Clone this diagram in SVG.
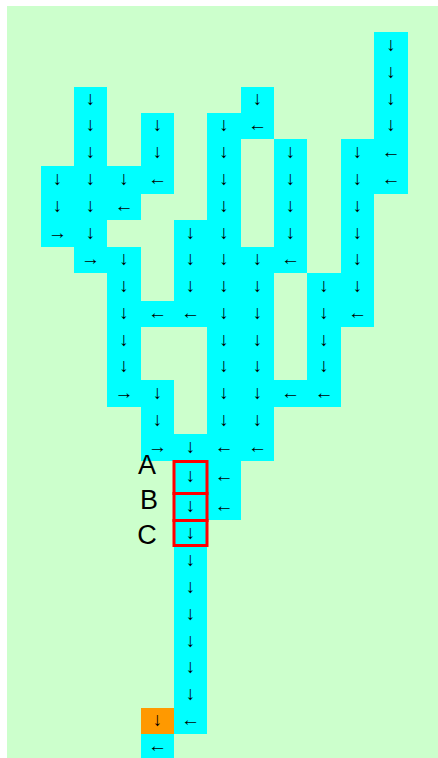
<svg xmlns="http://www.w3.org/2000/svg" width="438" height="758" viewBox="0 0 438 758">
<style>
.c{fill:#00FFFF}
.o{fill:#FF9900}
.t{font-family:"Liberation Sans","DejaVu Sans",sans-serif;font-size:19px;fill:#000;text-anchor:middle;dominant-baseline:central}
.lbl{font-family:"Liberation Sans",Arial,sans-serif;font-size:27px;fill:#000;text-anchor:middle}
.box{fill:none;stroke:#FF0000;stroke-width:3}
</style>
<rect x="7" y="6" width="431" height="752" fill="#CCFFCC"/>
<g id="cells">
<g id="r0c11"><rect class="c" x="374" y="32" width="34" height="27"/><text class="t" x="391" y="44">↓</text></g>
<g id="r1c11"><rect class="c" x="374" y="59" width="34" height="28"/><text class="t" x="391" y="71">↓</text></g>
<g id="r2c2"><rect class="c" x="74" y="87" width="33" height="26"/><text class="t" x="90.5" y="98.5">↓</text></g>
<g id="r2c7"><rect class="c" x="241" y="87" width="33" height="26"/><text class="t" x="257.5" y="98.5">↓</text></g>
<g id="r2c11"><rect class="c" x="374" y="87" width="34" height="26"/><text class="t" x="391" y="98.5">↓</text></g>
<g id="r3c2"><rect class="c" x="74" y="113" width="33" height="26"/><text class="t" x="90.5" y="124.5">↓</text></g>
<g id="r3c4"><rect class="c" x="141" y="113" width="33" height="26"/><text class="t" x="157.5" y="124.5">↓</text></g>
<g id="r3c6"><rect class="c" x="207" y="113" width="34" height="26"/><text class="t" x="224" y="124.5">↓</text></g>
<g id="r3c7"><rect class="c" x="241" y="113" width="33" height="26"/><text class="t" x="257.5" y="124.5">←</text></g>
<g id="r3c11"><rect class="c" x="374" y="113" width="34" height="26"/><text class="t" x="391" y="124.5">↓</text></g>
<g id="r4c2"><rect class="c" x="74" y="139" width="33" height="27"/><text class="t" x="90.5" y="151">↓</text></g>
<g id="r4c4"><rect class="c" x="141" y="139" width="33" height="27"/><text class="t" x="157.5" y="151">↓</text></g>
<g id="r4c6"><rect class="c" x="207" y="139" width="34" height="27"/><text class="t" x="224" y="151">↓</text></g>
<g id="r4c8"><rect class="c" x="274" y="139" width="33" height="27"/><text class="t" x="290.5" y="151">↓</text></g>
<g id="r4c10"><rect class="c" x="341" y="139" width="33" height="27"/><text class="t" x="357.5" y="151">↓</text></g>
<g id="r4c11"><rect class="c" x="374" y="139" width="34" height="27"/><text class="t" x="391" y="151">←</text></g>
<g id="r5c1"><rect class="c" x="41" y="166" width="33" height="28"/><text class="t" x="57.5" y="178.5">↓</text></g>
<g id="r5c2"><rect class="c" x="74" y="166" width="33" height="28"/><text class="t" x="90.5" y="178.5">↓</text></g>
<g id="r5c3"><rect class="c" x="107" y="166" width="34" height="28"/><text class="t" x="124" y="178.5">↓</text></g>
<g id="r5c4"><rect class="c" x="141" y="166" width="33" height="28"/><text class="t" x="157.5" y="178.5">←</text></g>
<g id="r5c6"><rect class="c" x="207" y="166" width="34" height="28"/><text class="t" x="224" y="178.5">↓</text></g>
<g id="r5c8"><rect class="c" x="274" y="166" width="33" height="28"/><text class="t" x="290.5" y="178.5">↓</text></g>
<g id="r5c10"><rect class="c" x="341" y="166" width="33" height="28"/><text class="t" x="357.5" y="178.5">↓</text></g>
<g id="r5c11"><rect class="c" x="374" y="166" width="34" height="28"/><text class="t" x="391" y="178.5">←</text></g>
<g id="r6c1"><rect class="c" x="41" y="194" width="33" height="26"/><text class="t" x="57.5" y="205.5">↓</text></g>
<g id="r6c2"><rect class="c" x="74" y="194" width="33" height="26"/><text class="t" x="90.5" y="205.5">↓</text></g>
<g id="r6c3"><rect class="c" x="107" y="194" width="34" height="26"/><text class="t" x="124" y="205.5">←</text></g>
<g id="r6c6"><rect class="c" x="207" y="194" width="34" height="26"/><text class="t" x="224" y="205.5">↓</text></g>
<g id="r6c8"><rect class="c" x="274" y="194" width="33" height="26"/><text class="t" x="290.5" y="205.5">↓</text></g>
<g id="r6c10"><rect class="c" x="341" y="194" width="33" height="26"/><text class="t" x="357.5" y="205.5">↓</text></g>
<g id="r7c1"><rect class="c" x="41" y="220" width="33" height="27"/><text class="t" x="57.5" y="232">→</text></g>
<g id="r7c2"><rect class="c" x="74" y="220" width="33" height="27"/><text class="t" x="90.5" y="232">↓</text></g>
<g id="r7c5"><rect class="c" x="174" y="220" width="33" height="27"/><text class="t" x="190.5" y="232">↓</text></g>
<g id="r7c6"><rect class="c" x="207" y="220" width="34" height="27"/><text class="t" x="224" y="232">↓</text></g>
<g id="r7c8"><rect class="c" x="274" y="220" width="33" height="27"/><text class="t" x="290.5" y="232">↓</text></g>
<g id="r7c10"><rect class="c" x="341" y="220" width="33" height="27"/><text class="t" x="357.5" y="232">↓</text></g>
<g id="r8c2"><rect class="c" x="74" y="247" width="33" height="26"/><text class="t" x="90.5" y="258.5">→</text></g>
<g id="r8c3"><rect class="c" x="107" y="247" width="34" height="26"/><text class="t" x="124" y="258.5">↓</text></g>
<g id="r8c5"><rect class="c" x="174" y="247" width="33" height="26"/><text class="t" x="190.5" y="258.5">↓</text></g>
<g id="r8c6"><rect class="c" x="207" y="247" width="34" height="26"/><text class="t" x="224" y="258.5">↓</text></g>
<g id="r8c7"><rect class="c" x="241" y="247" width="33" height="26"/><text class="t" x="257.5" y="258.5">↓</text></g>
<g id="r8c8"><rect class="c" x="274" y="247" width="33" height="26"/><text class="t" x="290.5" y="258.5">←</text></g>
<g id="r8c10"><rect class="c" x="341" y="247" width="33" height="26"/><text class="t" x="357.5" y="258.5">↓</text></g>
<g id="r9c3"><rect class="c" x="107" y="273" width="34" height="28"/><text class="t" x="124" y="285.5">↓</text></g>
<g id="r9c5"><rect class="c" x="174" y="273" width="33" height="28"/><text class="t" x="190.5" y="285.5">↓</text></g>
<g id="r9c6"><rect class="c" x="207" y="273" width="34" height="28"/><text class="t" x="224" y="285.5">↓</text></g>
<g id="r9c7"><rect class="c" x="241" y="273" width="33" height="28"/><text class="t" x="257.5" y="285.5">↓</text></g>
<g id="r9c9"><rect class="c" x="307" y="273" width="34" height="28"/><text class="t" x="324" y="285.5">↓</text></g>
<g id="r9c10"><rect class="c" x="341" y="273" width="33" height="28"/><text class="t" x="357.5" y="285.5">↓</text></g>
<g id="r10c3"><rect class="c" x="107" y="301" width="34" height="26"/><text class="t" x="124" y="312.5">↓</text></g>
<g id="r10c4"><rect class="c" x="141" y="301" width="33" height="26"/><text class="t" x="157.5" y="312.5">←</text></g>
<g id="r10c5"><rect class="c" x="174" y="301" width="33" height="26"/><text class="t" x="190.5" y="312.5">←</text></g>
<g id="r10c6"><rect class="c" x="207" y="301" width="34" height="26"/><text class="t" x="224" y="312.5">↓</text></g>
<g id="r10c7"><rect class="c" x="241" y="301" width="33" height="26"/><text class="t" x="257.5" y="312.5">↓</text></g>
<g id="r10c9"><rect class="c" x="307" y="301" width="34" height="26"/><text class="t" x="324" y="312.5">↓</text></g>
<g id="r10c10"><rect class="c" x="341" y="301" width="33" height="26"/><text class="t" x="357.5" y="312.5">←</text></g>
<g id="r11c3"><rect class="c" x="107" y="327" width="34" height="27"/><text class="t" x="124" y="339">↓</text></g>
<g id="r11c6"><rect class="c" x="207" y="327" width="34" height="27"/><text class="t" x="224" y="339">↓</text></g>
<g id="r11c7"><rect class="c" x="241" y="327" width="33" height="27"/><text class="t" x="257.5" y="339">↓</text></g>
<g id="r11c9"><rect class="c" x="307" y="327" width="34" height="27"/><text class="t" x="324" y="339">↓</text></g>
<g id="r12c3"><rect class="c" x="107" y="354" width="34" height="26"/><text class="t" x="124" y="365.5">↓</text></g>
<g id="r12c6"><rect class="c" x="207" y="354" width="34" height="26"/><text class="t" x="224" y="365.5">↓</text></g>
<g id="r12c7"><rect class="c" x="241" y="354" width="33" height="26"/><text class="t" x="257.5" y="365.5">↓</text></g>
<g id="r12c9"><rect class="c" x="307" y="354" width="34" height="26"/><text class="t" x="324" y="365.5">↓</text></g>
<g id="r13c3"><rect class="c" x="107" y="380" width="34" height="27"/><text class="t" x="124" y="392">→</text></g>
<g id="r13c4"><rect class="c" x="141" y="380" width="33" height="27"/><text class="t" x="157.5" y="392">↓</text></g>
<g id="r13c6"><rect class="c" x="207" y="380" width="34" height="27"/><text class="t" x="224" y="392">↓</text></g>
<g id="r13c7"><rect class="c" x="241" y="380" width="33" height="27"/><text class="t" x="257.5" y="392">↓</text></g>
<g id="r13c8"><rect class="c" x="274" y="380" width="33" height="27"/><text class="t" x="290.5" y="392">←</text></g>
<g id="r13c9"><rect class="c" x="307" y="380" width="34" height="27"/><text class="t" x="324" y="392">←</text></g>
<g id="r14c4"><rect class="c" x="141" y="407" width="33" height="27"/><text class="t" x="157.5" y="419">↓</text></g>
<g id="r14c6"><rect class="c" x="207" y="407" width="34" height="27"/><text class="t" x="224" y="419">↓</text></g>
<g id="r14c7"><rect class="c" x="241" y="407" width="33" height="27"/><text class="t" x="257.5" y="419">↓</text></g>
<g id="r15c4"><rect class="c" x="141" y="434" width="33" height="27"/><text class="t" x="157.5" y="446">→</text></g>
<g id="r15c5"><rect class="c" x="174" y="434" width="33" height="27"/><text class="t" x="190.5" y="446">↓</text></g>
<g id="r15c6"><rect class="c" x="207" y="434" width="34" height="27"/><text class="t" x="224" y="446">←</text></g>
<g id="r15c7"><rect class="c" x="241" y="434" width="33" height="27"/><text class="t" x="257.5" y="446">←</text></g>
<g id="r16c5"><rect class="c" x="174" y="461" width="33" height="32"/><text class="t" x="190.5" y="475.5">↓</text></g>
<g id="r16c6"><rect class="c" x="207" y="461" width="34" height="32"/><text class="t" x="224" y="475.5">←</text></g>
<g id="r17c5"><rect class="c" x="174" y="493" width="33" height="27"/><text class="t" x="190.5" y="505">↓</text></g>
<g id="r17c6"><rect class="c" x="207" y="493" width="34" height="27"/><text class="t" x="224" y="505">←</text></g>
<g id="r18c5"><rect class="c" x="174" y="520" width="33" height="27"/><text class="t" x="190.5" y="532">↓</text></g>
<g id="r19c5"><rect class="c" x="174" y="547" width="33" height="27"/><text class="t" x="190.5" y="559">↓</text></g>
<g id="r20c5"><rect class="c" x="174" y="574" width="33" height="27"/><text class="t" x="190.5" y="586">↓</text></g>
<g id="r21c5"><rect class="c" x="174" y="601" width="33" height="27"/><text class="t" x="190.5" y="613">↓</text></g>
<g id="r22c5"><rect class="c" x="174" y="628" width="33" height="27"/><text class="t" x="190.5" y="640">↓</text></g>
<g id="r23c5"><rect class="c" x="174" y="655" width="33" height="26"/><text class="t" x="190.5" y="666.5">↓</text></g>
<g id="r24c5"><rect class="c" x="174" y="681" width="33" height="27"/><text class="t" x="190.5" y="693">↓</text></g>
<g id="r25c4"><rect class="o" x="141" y="708" width="33" height="26"/><text class="t" x="157.5" y="719.5">↓</text></g>
<g id="r25c5"><rect class="c" x="174" y="708" width="33" height="26"/><text class="t" x="190.5" y="719.5">←</text></g>
<g id="r26c4"><rect class="c" x="141" y="734" width="33" height="24"/><text class="t" x="157.5" y="745">←</text></g>
</g>
<g id="markers">
<rect class="box" x="174" y="461.5" width="33" height="32"/>
<rect class="box" x="174" y="493.5" width="33" height="27"/>
<rect class="box" x="174" y="520.5" width="33" height="25"/>
</g>
<g id="labels">
<text class="lbl" x="147" y="474">A</text>
<text class="lbl" x="149" y="509">B</text>
<text class="lbl" x="147" y="544">C</text>
</g>
</svg>
